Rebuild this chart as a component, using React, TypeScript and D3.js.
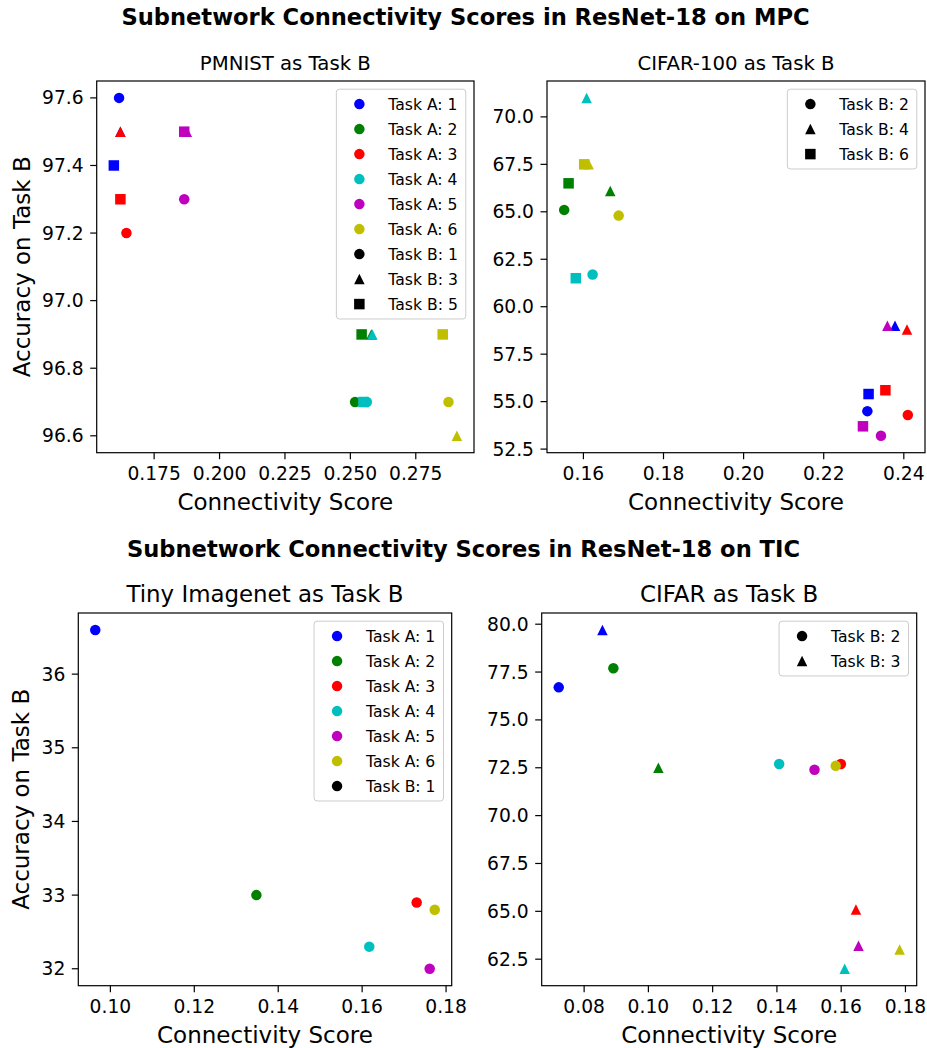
import React from 'react'
import * as d3 from 'd3'

// matplotlib single-letter colours b g r c m y for Task A: 1..6
const TASK_A_COLORS = ['#0000ff', '#008000', '#ff0000', '#00bfbf', '#bf00bf', '#bfbf00']

// ---- MPC: PMNIST as Task B ----
const pmnistTaskA = [1, 1, 1, 2, 2, 2, 3, 3, 3, 4, 4, 4, 5, 5, 5, 6, 6, 6]
const pmnistTaskB = [1, 3, 5, 1, 3, 5, 1, 3, 5, 1, 3, 5, 1, 3, 5, 1, 3, 5]
const pmnistScore = [0.1616, 0.1621, 0.1596, 0.2518, 0.2580, 0.2543, 0.1644, 0.1621, 0.1621, 0.2563, 0.2584, 0.2550, 0.1865, 0.1875, 0.1865, 0.2875, 0.2907, 0.2853]
const pmnistAcc = [97.6, 97.5, 97.4, 96.7, 96.9, 96.9, 97.2, 97.5, 97.3, 96.7, 96.9, 96.7, 97.3, 97.5, 97.5, 96.7, 96.6, 96.9]
const pmnistXTicks = [0.175, 0.2, 0.225, 0.25, 0.275]
const pmnistYTicks = [96.6, 96.8, 97.0, 97.2, 97.4, 97.6]

// ---- MPC: CIFAR-100 as Task B ----
const cifar100TaskA = [1, 1, 1, 2, 2, 2, 3, 3, 3, 4, 4, 4, 5, 5, 5, 6, 6, 6]
const cifar100TaskB = [2, 4, 6, 2, 4, 6, 2, 4, 6, 2, 4, 6, 2, 4, 6, 2, 4, 6]
const cifar100Score = [0.2309, 0.2378, 0.2312, 0.1552, 0.1667, 0.1563, 0.2410, 0.2408, 0.2354, 0.1623, 0.1608, 0.1581, 0.2343, 0.2359, 0.2298, 0.1688, 0.1613, 0.1602]
const cifar100Acc = [54.5, 59.0, 55.4, 65.1, 66.1, 66.5, 54.3, 58.8, 55.6, 61.7, 71.0, 61.5, 53.2, 59.0, 53.7, 64.8, 67.5, 67.5]
const cifar100XTicks = [0.16, 0.18, 0.2, 0.22, 0.24]
const cifar100YTicks = [52.5, 55, 57.5, 60, 62.5, 65, 67.5, 70]

// ---- TIC: Tiny Imagenet as Task B ----
const tinyTaskA = [1, 2, 3, 4, 5, 6]
const tinyTaskB = [1, 1, 1, 1, 1, 1]
const tinyScore = [0.0964, 0.1348, 0.1730, 0.1617, 0.1761, 0.1773]
const tinyAcc = [36.6, 33.0, 32.9, 32.3, 32.0, 32.8]
const tinyXTicks = [0.1, 0.12, 0.14, 0.16, 0.18]
const tinyYTicks = [32, 33, 34, 35, 36]

// ---- TIC: CIFAR as Task B ----
const cifarTaskA = [1, 1, 2, 2, 3, 3, 4, 4, 5, 5, 6, 6]
const cifarTaskB = [2, 3, 2, 3, 2, 3, 2, 3, 2, 3, 2, 3]
const cifarScore = [0.0721, 0.0857, 0.0891, 0.1031, 0.1599, 0.1646, 0.1407, 0.1611, 0.1517, 0.1654, 0.1583, 0.1782]
const cifarAcc = [76.7, 79.7, 77.7, 72.5, 72.7, 65.1, 72.7, 62.0, 72.4, 63.2, 72.6, 63.0]
const cifarXTicks = [0.08, 0.1, 0.12, 0.14, 0.16, 0.18]
const cifarYTicks = [62.5, 65, 67.5, 70, 72.5, 75, 77.5, 80]

const FONT = '"DejaVu Sans", sans-serif'
const TICK_FS = 18.7
const LABEL_FS = 23
const SUPTITLE_FS = 22.6
const LEGEND_FS = 15.6
const MARKER = 10.5

const canvasCtx = typeof document !== 'undefined' ? document.createElement('canvas').getContext('2d') : null
function textWidth(s: string, size: number) {
  if (!canvasCtx) return s.length * size * 0.6
  canvasCtx.font = `${size}px "DejaVu Sans"`
  return canvasCtx.measureText(s).width
}

function padExtent(v: number[]): [number, number] {
  const [lo, hi] = d3.extent(v) as [number, number]
  const m = (hi - lo) * 0.05
  return [lo - m, hi + m]
}

type Shape = 'circle' | 'triangle' | 'square'
const SHAPES: Shape[] = ['circle', 'triangle', 'square']

function Marker({ shape, cx, cy, color }: { shape: Shape; cx: number; cy: number; color: string }) {
  const s = MARKER
  if (shape === 'circle') return <circle cx={cx} cy={cy} r={s / 2} fill={color} />
  if (shape === 'square') return <rect x={cx - s / 2} y={cy - s / 2} width={s} height={s} fill={color} />
  return <path d={`M${cx},${cy - s / 2}L${cx + s / 2},${cy + s / 2}L${cx - s / 2},${cy + s / 2}Z`} fill={color} />
}

interface PanelProps {
  title: string
  titleSize: number
  taskA: number[]
  taskB: number[]
  score: number[]
  acc: number[]
  xTicks: number[]
  yTicks: number[]
  xFmt: string
  yFmt: string
  rect: { left: number; top: number; right: number; bottom: number }
  showTaskA: boolean
  yLabel: boolean
}

function Panel(p: PanelProps) {
  const { left, top, right, bottom } = p.rect
  const x = d3.scaleLinear().domain(padExtent(p.score)).range([left, right])
  const y = d3.scaleLinear().domain(padExtent(p.acc)).range([bottom, top])
  const fx = d3.format(p.xFmt)
  const fy = d3.format(p.yFmt)
  const bKeys = Array.from(new Set(p.taskB)).sort((a, b) => a - b)
  const shapeOf = (b: number) => SHAPES[bKeys.indexOf(b)]

  // legend entries
  const entries: { label: string; color: string; shape: Shape }[] = []
  if (p.showTaskA) {
    Array.from(new Set(p.taskA)).sort((a, b) => a - b).forEach(a => {
      entries.push({ label: `Task A: ${a}`, color: TASK_A_COLORS[a - 1], shape: 'circle' })
    })
  }
  bKeys.forEach(b => entries.push({ label: `Task B: ${b}`, color: '#000', shape: shapeOf(b) }))
  const bp = 0.4 * LEGEND_FS
  const markerOff = 23
  const textOff = 52
  const rowH = 17.3
  const rowGap = 7.7
  const maxLabel = d3.max(entries, e => textWidth(e.label, LEGEND_FS)) || 0
  const lw = textOff + maxLabel + 8
  const lh = bp * 2 + entries.length * rowH + (entries.length - 1) * rowGap
  const lx = right - 8.2 - lw
  const ly = top + 8.2

  const maxTick = d3.max(p.yTicks, t => textWidth(fy(t), TICK_FS)) || 0
  const yLabelX = left - 13 - maxTick - 12.5

  return (
    <g>
      {/* points */}
      {p.score.map((s, i) => (
        <Marker key={i} shape={shapeOf(p.taskB[i])} cx={x(s)} cy={y(p.acc[i])} color={TASK_A_COLORS[p.taskA[i] - 1]} />
      ))}

      {/* legend */}
      <rect x={lx} y={ly} width={lw} height={lh} rx={3} fill="#fff" fillOpacity={0.8} stroke="#cccccc" strokeWidth={1} />
      {entries.map((e, i) => {
        const cy = ly + bp + rowH / 2 + i * (rowH + rowGap)
        return (
          <g key={e.label}>
            <Marker shape={e.shape} cx={lx + markerOff} cy={cy} color={e.color} />
            <text x={lx + textOff} y={cy} dy="0.36em" fontSize={LEGEND_FS} fill="#000">{e.label}</text>
          </g>
        )
      })}

      {/* frame */}
      <rect x={left} y={top} width={right - left} height={bottom - top} fill="none" stroke="#000" strokeWidth={1.2} />

      {/* x axis */}
      {p.xTicks.map(t => (
        <g key={t}>
          <line x1={x(t)} x2={x(t)} y1={bottom} y2={bottom + 6.5} stroke="#000" strokeWidth={1.2} />
          <text x={x(t)} y={bottom + 27} textAnchor="middle" fontSize={TICK_FS} fill="#000">{fx(t)}</text>
        </g>
      ))}
      {/* y axis */}
      {p.yTicks.map(t => (
        <g key={t}>
          <line x1={left - 6.5} x2={left} y1={y(t)} y2={y(t)} stroke="#000" strokeWidth={1.2} />
          <text x={left - 13} y={y(t)} dy="0.35em" textAnchor="end" fontSize={TICK_FS} fill="#000">{fy(t)}</text>
        </g>
      ))}

      <text x={(left + right) / 2} y={bottom + 57} textAnchor="middle" fontSize={LABEL_FS} fill="#000">Connectivity Score</text>
      {p.yLabel && (
        <text transform={`translate(${yLabelX},${(top + bottom) / 2}) rotate(-90)`} textAnchor="middle" fontSize={LABEL_FS} fill="#000">Accuracy on Task B</text>
      )}
      <text x={(left + right) / 2} y={top - 11} textAnchor="middle" fontSize={p.titleSize} fill="#000">{p.title}</text>
    </g>
  )
}

export default function App() {
  const W = 927
  const H = 1048
  return (
    <svg width={W} height={H} style={{ position: 'absolute', left: 0, top: 0, background: '#fff' }} fontFamily={FONT}>
      <rect width={W} height={H} fill="#fff" />
      <text x={W / 2 + 2} y={25} textAnchor="middle" fontSize={SUPTITLE_FS} fontWeight="bold" fill="#000">Subnetwork Connectivity Scores in ResNet-18 on MPC</text>
      <text x={W / 2} y={557} textAnchor="middle" fontSize={SUPTITLE_FS} fontWeight="bold" fill="#000">Subnetwork Connectivity Scores in ResNet-18 on TIC</text>

      <Panel title="PMNIST as Task B" titleSize={19.7} taskA={pmnistTaskA} taskB={pmnistTaskB} score={pmnistScore} acc={pmnistAcc}
        xTicks={pmnistXTicks} yTicks={pmnistYTicks} xFmt=".3f" yFmt=".1f"
        rect={{ left: 96.7, top: 81, right: 474, bottom: 452.7 }} showTaskA yLabel />
      <Panel title="CIFAR-100 as Task B" titleSize={19.7} taskA={cifar100TaskA} taskB={cifar100TaskB} score={cifar100Score} acc={cifar100Acc}
        xTicks={cifar100XTicks} yTicks={cifar100YTicks} xFmt=".2f" yFmt=".1f"
        rect={{ left: 547, top: 81, right: 925, bottom: 452.7 }} showTaskA={false} yLabel={false} />
      <Panel title="Tiny Imagenet as Task B" titleSize={22.9} taskA={tinyTaskA} taskB={tinyTaskB} score={tinyScore} acc={tinyAcc}
        xTicks={tinyXTicks} yTicks={tinyYTicks} xFmt=".2f" yFmt="d"
        rect={{ left: 78.3, top: 613, right: 451.7, bottom: 985.7 }} showTaskA yLabel />
      <Panel title="CIFAR as Task B" titleSize={22.9} taskA={cifarTaskA} taskB={cifarTaskB} score={cifarScore} acc={cifarAcc}
        xTicks={cifarXTicks} yTicks={cifarYTicks} xFmt=".2f" yFmt=".1f"
        rect={{ left: 541.7, top: 613, right: 916.7, bottom: 985.7 }} showTaskA={false} yLabel={false} />
    </svg>
  )
}
